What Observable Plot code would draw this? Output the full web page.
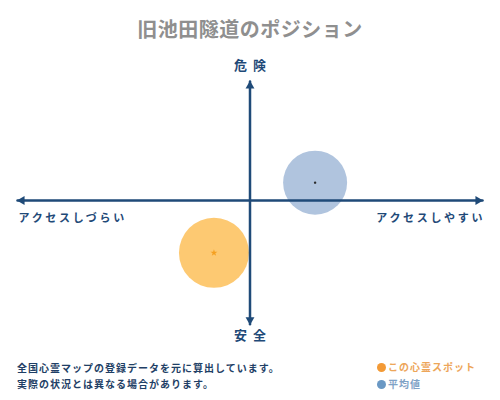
<!DOCTYPE html>
<html>
<head>
<meta charset="utf-8">
<script src="https://cdn.jsdelivr.net/npm/d3@7"></script>
<script src="https://cdn.jsdelivr.net/npm/@observablehq/plot@0.6"></script>
<style>
  html, body { margin: 0; padding: 0; background: #fff; }
  body { font-family: "Noto Sans CJK JP", "Noto Sans", sans-serif; }
  #wrap { position: relative; width: 500px; height: 400px; overflow: hidden; }
  #title { position: absolute; left: 0; top: 14px; width: 500px; text-align: center;
           font-size: 20px; font-weight: 700; color: #8f8f8f; letter-spacing: 0.5px; line-height: 30px; }
  #chart { position: absolute; left: 0; top: 50px; }
  #note { position: absolute; left: 17px; top: 360px; font-size: 10px; font-weight: 700;
          color: #1f3f66; letter-spacing: 1px; line-height: 16px; }
  #legend { position: absolute; left: 377px; top: 358px; font-size: 10px; font-weight: 700;
            letter-spacing: 1px; line-height: 17px; }
  .sw { display: inline-block; width: 9px; height: 9px; border-radius: 50%; margin-right: 2px; vertical-align: -1px; }
</style>
</head>
<body>
<div id="wrap">
  <div id="title"></div>
  <div id="chart"></div>
  <div id="note"></div>
  <div id="legend"></div>
</div>
<script>
// ---- data ----
const titleText = "旧池田隧道のポジション";
const spotNames = ["この心霊スポット", "平均値"];
const accessValues = [-0.155, 0.28];   // x: アクセスしづらい (-) ... アクセスしやすい (+)
const dangerValues = [-0.44, 0.15];    // y: 安全 (-) ... 危険 (+)
const spotRadius = [35, 32];
const spotFill = ["#fdc972", "#b0c4de"];
const spotCenter = ["#f5a020", "#2a2a2a"];
const legendDot = ["#f39a36", "#6a98c4"];
const legendText = ["#eda65a", "#7fa2c6"];
const xAxisEnds = [-1, 1];
const yAxisEnds = [-1.04, 1];
const topLabel = "危険";
const bottomLabel = "安全";
const leftLabel = "アクセスしづらい";
const rightLabel = "アクセスしやすい";
const noteLines = ["全国心霊マップの登録データを元に算出しています。", "実際の状況とは異なる場合があります。"];

const axisColor = "#1f4a78";

document.getElementById("title").textContent = titleText;
document.getElementById("note").innerHTML = noteLines.join("<br>");
document.getElementById("legend").innerHTML = spotNames.map((n, i) =>
  `<div style="color:${legendText[i]}"><span class="sw" style="background:${legendDot[i]}"></span>${n}</div>`).join("");

const spots = spotNames.map((name, i) => ({name, x: accessValues[i], y: dangerValues[i], r: spotRadius[i], fill: spotFill[i], center: spotCenter[i]}));

const hLine = xAxisEnds.map(x => ({x, y: 0}));
const vLine = yAxisEnds.map(y => ({x: 0, y}));

const marks = [];
spots.forEach(s => {
  marks.push(Plot.dot([s], {x: "x", y: "y", r: s.r, fill: s.fill, stroke: null}));
});
marks.push(Plot.line(hLine, {x: "x", y: "y", stroke: axisColor, strokeWidth: 2.5}));
marks.push(Plot.line(vLine, {x: "x", y: "y", stroke: axisColor, strokeWidth: 2.5}));
// arrowheads
marks.push(Plot.dot([{x: xAxisEnds[1], y: 0}], {x: "x", y: "y", symbol: "triangle", rotate: 90, r: 3.3, fill: axisColor, dx: -4.5}));
marks.push(Plot.dot([{x: xAxisEnds[0], y: 0}], {x: "x", y: "y", symbol: "triangle", rotate: -90, r: 3.3, fill: axisColor, dx: 4.5}));
marks.push(Plot.dot([{x: 0, y: yAxisEnds[1]}], {x: "x", y: "y", symbol: "triangle", rotate: 0, r: 3.3, fill: axisColor, dy: 4.5}));
marks.push(Plot.dot([{x: 0, y: yAxisEnds[0]}], {x: "x", y: "y", symbol: "triangle", rotate: 180, r: 3.3, fill: axisColor, dy: -4.5}));
// centers
marks.push(Plot.dot([spots[0]], {x: "x", y: "y", symbol: "star", r: 2.2, fill: spots[0].center}));
marks.push(Plot.dot([spots[1]], {x: "x", y: "y", r: 1.2, fill: spots[1].center}));
// labels
marks.push(Plot.text([{x: 0, y: 1.13, t: topLabel}], {x: "x", y: "y", text: "t", fontSize: 13, fontWeight: 700, fill: axisColor, dx: 3}));
marks.push(Plot.text([{x: 0, y: -1.135, t: bottomLabel}], {x: "x", y: "y", text: "t", fontSize: 13, fontWeight: 700, fill: axisColor, dx: 3}));
marks.push(Plot.text([{x: -1, y: -0.15, t: leftLabel}], {x: "x", y: "y", text: "t", fontSize: 11, fontWeight: 700, fill: axisColor, textAnchor: "start", dx: 1}));
marks.push(Plot.text([{x: 1, y: -0.15, t: rightLabel}], {x: "x", y: "y", text: "t", fontSize: 11, fontWeight: 700, fill: axisColor, textAnchor: "end", dx: 2.7}));

const chart = Plot.plot({
  width: 500,
  height: 300,
  marginLeft: 17,
  marginRight: 18,
  marginTop: 31,
  marginBottom: 31,
  x: {domain: [-1, 1], axis: null},
  y: {domain: [-1, 1], axis: null},
  style: {fontFamily: "'Noto Sans CJK JP', sans-serif", background: "transparent", overflow: "visible"},
  marks
});
d3.select(chart).selectAll("text").each(function() {
  const t = this.textContent;
  if (t === topLabel || t === bottomLabel) this.setAttribute("letter-spacing", "6px");
  else if (t === leftLabel || t === rightLabel) this.setAttribute("letter-spacing", "2.7px");
});
document.getElementById("chart").appendChild(chart);
</script>
</body>
</html>
